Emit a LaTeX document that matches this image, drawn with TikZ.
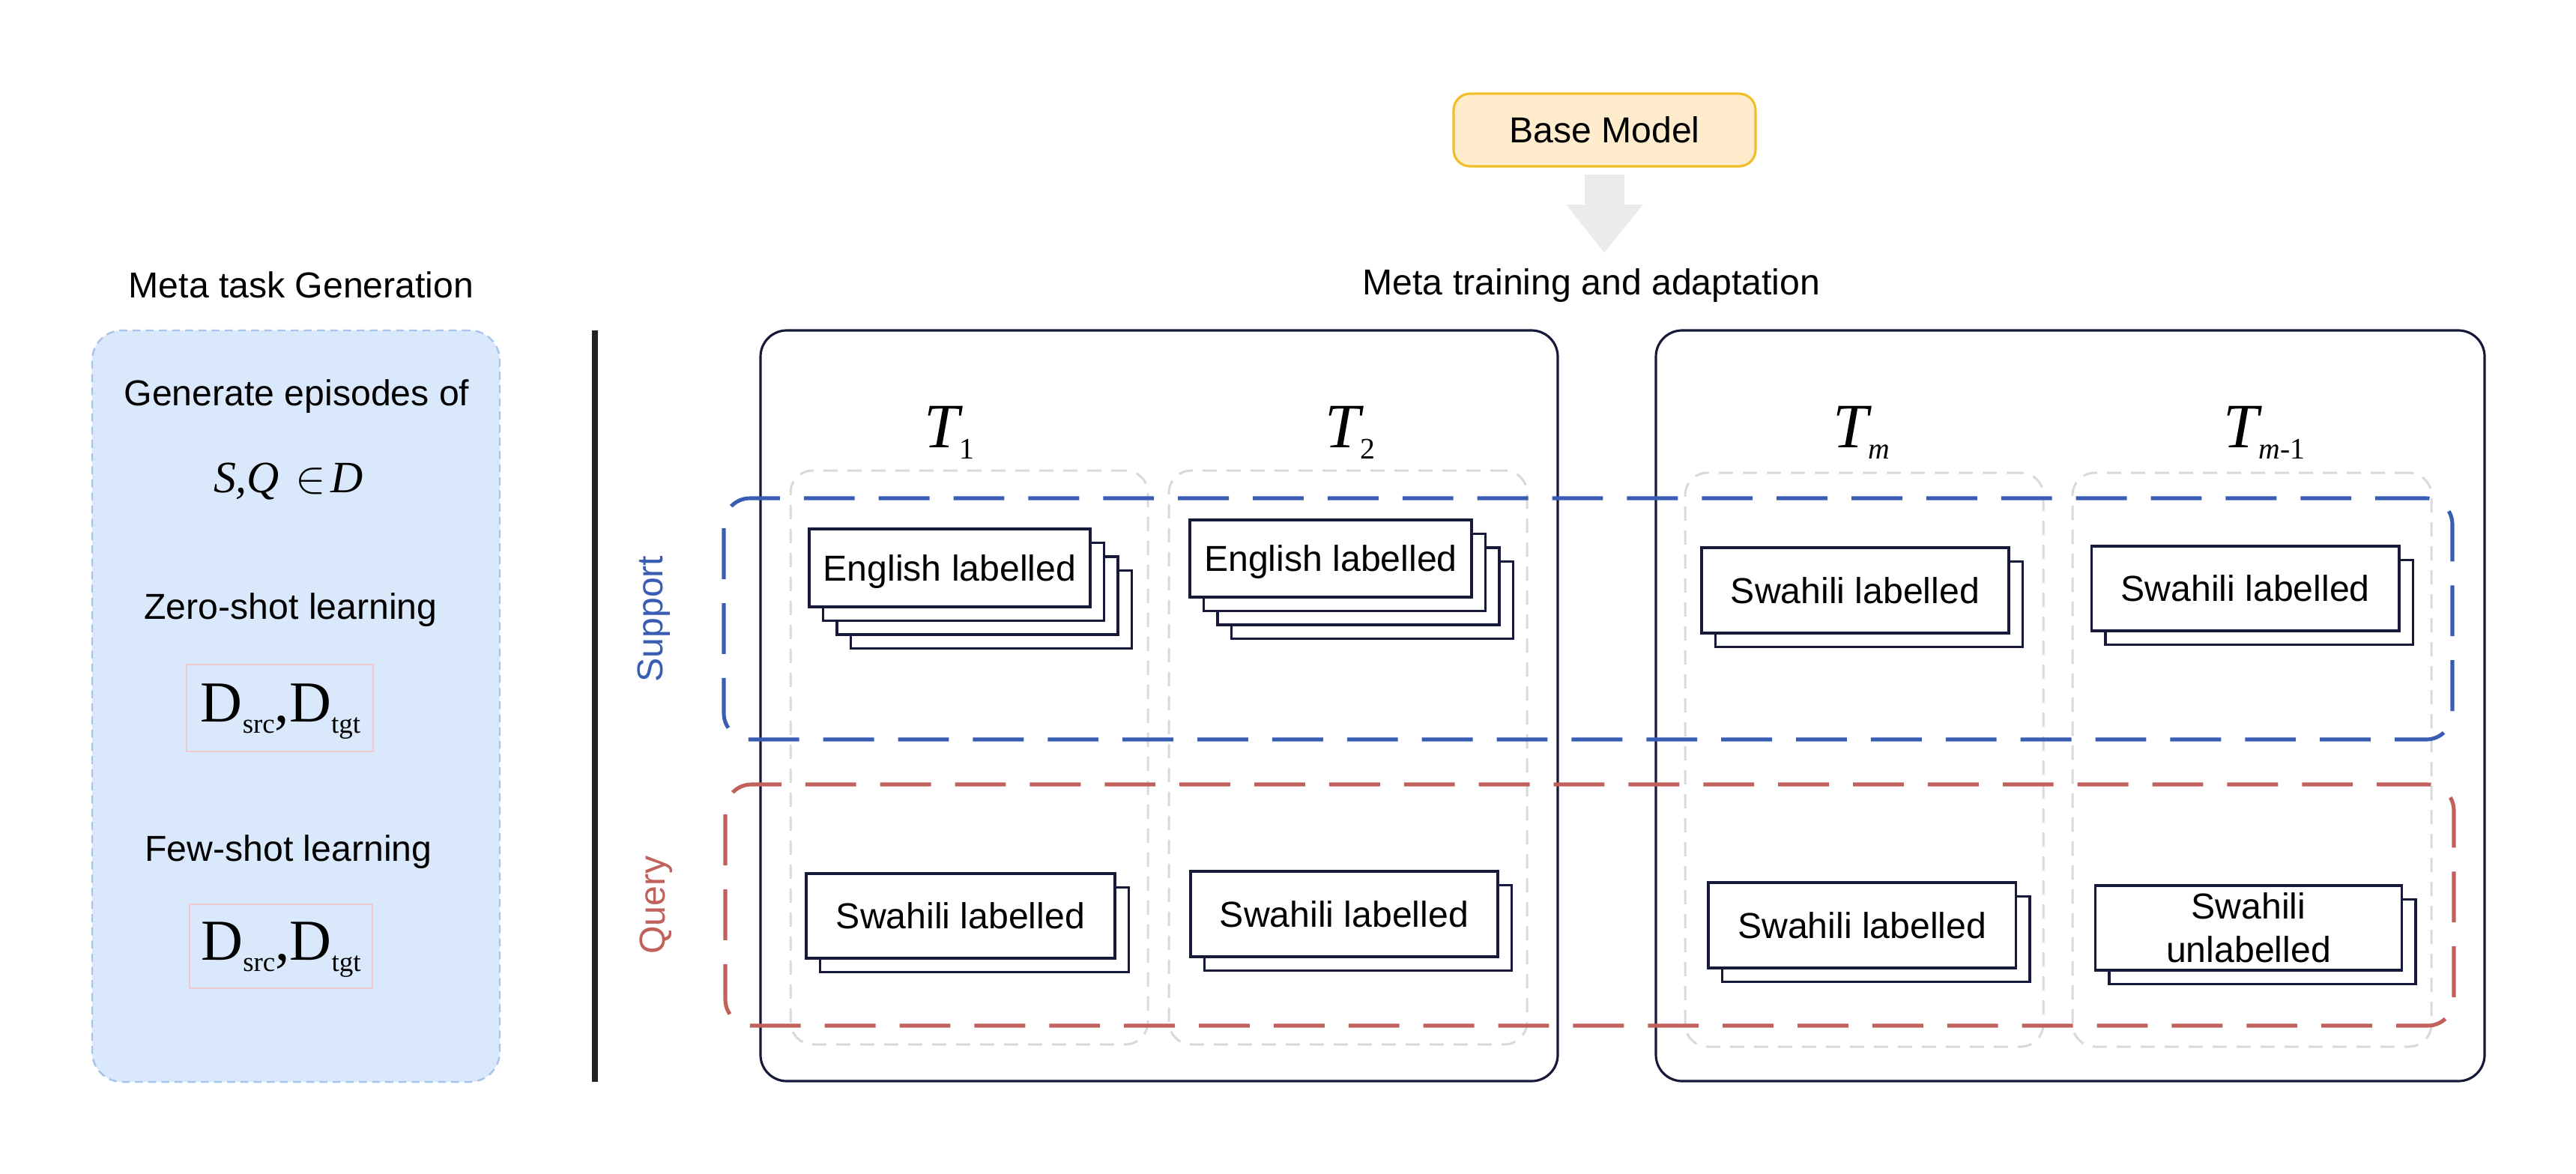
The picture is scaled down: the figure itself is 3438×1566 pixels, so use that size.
\documentclass[tikz,border=0pt]{standalone}
\usepackage{fontspec}
\setmainfont{Liberation Sans}
\newfontfamily\timesf{Liberation Serif}
\definecolor{navy}{RGB}{22,25,58}
\definecolor{colgray}{RGB}{217,217,217}
\definecolor{suppblue}{RGB}{58,93,180}
\definecolor{qred}{RGB}{192,97,92}
\definecolor{panelfill}{RGB}{218,232,252}
\definecolor{panelborder}{RGB}{169,196,235}
\definecolor{pinkb}{RGB}{242,200,206}
\definecolor{arrowgray}{RGB}{235,235,235}
\definecolor{basefill}{RGB}{255,236,205}
\definecolor{baseborder}{RGB}{242,190,40}
\definecolor{vline}{RGB}{34,34,34}
\newcommand{\fs}{\fontsize{13.7pt}{16.4pt}\selectfont}
\newcommand{\tsub}[1]{\raisebox{-4.3pt}{\fontsize{11.3pt}{11.3pt}\selectfont #1}}
\newcommand{\dsub}[1]{\raisebox{-4.5pt}{\fontsize{10.5pt}{10.5pt}\selectfont #1}}
\newcommand{\dtext}{{\timesf\fontsize{22pt}{22pt}\selectfont D\dsub{src},D\dsub{tgt}}}
\newcommand{\boxat}[7]{%
  \node[#1, minimum width={(#5-#3)*0.01cm}, minimum height={(#6-#4)*0.01cm}] (#2) at ({(#3+#5)/2},{(#4+#6)/2}) {#7};}
\newcommand{\stackbox}[8]{%
  \foreach \i in {#6} {\draw[layer] ({#2+\i*18.5},{#3+\i*18.5}) rectangle ({#4+\i*18.5},{#5+\i*18.5});}
  \boxat{frontbox,#8}{#1}{#2}{#3}{#4}{#5}{#7}}
\begin{document}
\begin{tikzpicture}[x=0.01cm,y=-0.01cm,
  txt/.style={font=\fs, inner sep=0pt},
  frontbox/.style={draw=navy, line width=0.9pt, fill=white, inner sep=0pt, font=\fs},
  layer/.style={draw=navy, line width=0.9pt, fill=white},
  bigbox/.style={draw=navy, line width=0.9pt, rounded corners=0.35cm, inner sep=0pt},
  column/.style={draw=colgray, line width=0.85pt, dash pattern=on 5.4pt off 3.7pt, rounded corners=0.3cm, inner sep=0pt},
  suppbox/.style={draw=suppblue, line width=1.45pt, dash pattern=on 19.3pt off 9.1pt, rounded corners=0.35cm, inner sep=0pt},
  querybox/.style={draw=qred, line width=1.45pt, dash pattern=on 19.3pt off 9.1pt, rounded corners=0.35cm, inner sep=0pt},
  panel/.style={fill=panelfill, draw=panelborder, line width=0.7pt, dash pattern=on 3pt off 2pt, rounded corners=0.4cm, inner sep=0pt},
  dbox/.style={draw=pinkb, line width=0.6pt, inner sep=0pt},
  basebox/.style={fill=basefill, draw=baseborder, line width=0.9pt, rounded corners=0.22cm, font=\fs, inner sep=0pt, text depth=0pt},
  tlabel/.style={anchor=base west, inner sep=0pt, font=\timesf\fontsize{24pt}{24pt}\selectfont\itshape}
]
\useasboundingbox (0,0) rectangle (3438,1566);

% left panel
\boxat{panel}{pnl}{123}{441}{667}{1444}{}
\node[txt, anchor=base] (mtg) at (402,397) {Meta task Generation};
\node[txt, anchor=base] (gen) at (396,541) {Generate episodes of};
\node[anchor=base, inner sep=0pt] (sqd) at (385,657) {\timesf\fontsize{17pt}{20pt}\selectfont\itshape S,Q\hspace{0.35em}\upshape$\in$\hspace{0.12em}\itshape D};
\node[txt, anchor=base] (zsl) at (388,826) {Zero-shot learning};
\boxat{dbox}{d1}{249}{887}{498}{1003}{}
\node[anchor=base, inner sep=0pt] (d1t) at (374.5,963) {\dtext};
\node[txt, anchor=base] (fsl) at (385,1149) {Few-shot learning};
\boxat{dbox}{d2}{253}{1207}{497}{1319}{}
\node[anchor=base, inner sep=0pt] (d2t) at (375,1281) {\dtext};

% separator
\coordinate (vtop) at (794,441);
\coordinate (vbot) at (794,1444);
\draw[line width=2pt, vline] (vtop) -- (vbot);

\node[txt, rotate=90, anchor=base, text=suppblue] (suplab) at (884,826) {Support};
\node[txt, rotate=90, anchor=base, text=qred] (qlab) at (887,1208) {Query};

% big boxes
\boxat{bigbox}{b1}{1015}{441}{2079}{1443}{}
\boxat{bigbox}{b2}{2210}{441}{3316}{1443}{}

% task columns
\boxat{column}{c1}{1055}{628}{1532}{1394}{}
\boxat{column}{c2}{1560}{628}{2038}{1394}{}
\boxat{column}{c3}{2249}{631}{2727}{1397}{}
\boxat{column}{c4}{2766}{631}{3245}{1397}{}

% support / query
\boxat{suppbox}{sup}{966}{665}{3273}{987}{}
\boxat{querybox}{qry}{968}{1047}{3275}{1369}{}

% stacked boxes
\stackbox{e1}{1080}{706}{1455}{810}{3,2,1}{English labelled}{text depth=0pt}
\stackbox{e2}{1588}{694}{1964}{797}{3,2,1}{English labelled}{text depth=0pt}
\stackbox{s3}{2271}{731}{2681}{845}{1}{Swahili labelled}{text depth=0pt}
\stackbox{s4}{2791.5}{729}{3202}{842}{1}{Swahili labelled}{text depth=0pt}
\stackbox{q1}{1076}{1166}{1488}{1279}{1}{Swahili labelled}{text depth=0pt}
\stackbox{q2}{1589}{1163}{1999}{1277}{1}{Swahili labelled}{text depth=0pt}
\stackbox{q3}{2280}{1178}{2690.5}{1292}{1}{Swahili labelled}{text depth=0pt}
\stackbox{q4}{2796.5}{1182}{3205.5}{1295}{1}{Swahili\\unlabelled}{align=center}

% task labels
\node[tlabel] (t1) at (1233,597) {T\tsub{\upshape 1}};
\node[tlabel] (t2) at (1768,597) {T\tsub{\upshape 2}};
\node[tlabel] (tm) at (2446,597) {T\tsub{m}};
\node[tlabel] (tm1) at (2967,597) {T\tsub{m\upshape -1}};

% base model and arrow
\boxat{basebox}{base}{1940}{125}{2343}{222}{Base Model}
\fill[arrowgray] (2115,233) -- (2168,233) -- (2168,273) -- (2193,273) -- (2141,337) -- (2090,273) -- (2115,273) -- cycle;
\node[txt, anchor=base] (mta) at (2124,393) {Meta training and adaptation};
\end{tikzpicture}
\end{document}
